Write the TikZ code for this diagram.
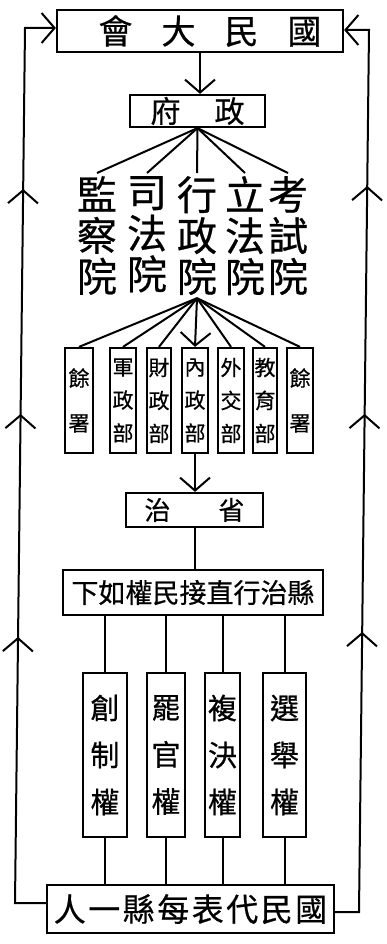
\documentclass[tikz,border=0pt]{standalone}
\usepackage{fontspec}
\newfontfamily\cjk[FakeBold=0.6]{Noto Sans CJK TC}
\usetikzlibrary{arrows.meta,decorations.markings}
\tikzset{
  mybarb/.tip={Straight Barb[length=13pt,width=30pt,line width=2pt]},
  conn/.style={line width=2pt},
  arr/.style={conn,-{mybarb}},
  box/.style={draw, line width=2.2pt, inner sep=0pt},
  colstyle/.style={inner xsep=0pt, inner ysep=3pt, align=center, anchor=north,
    font=\cjk\fontsize{40}{41}\selectfont},
  ministry/.style={box, align=center, minimum height=105pt,
    font=\cjk\fontsize{21}{33}\selectfont},
  ministrytwo/.style={box, align=center, minimum height=105pt,
    font=\cjk\fontsize{21}{45}\selectfont},
  rightbox/.style={box, align=center, minimum height=164pt,
    font=\cjk\fontsize{29}{47}\selectfont},
}
\begin{document}
\begin{tikzpicture}[x=1pt,y=-1pt]
\fill[white] (0,0) rectangle (386,944);
\useasboundingbox (0,0) rectangle (386,944);

% top
\node[box, minimum width=286pt, minimum height=42pt, font=\cjk\fontsize{34}{34}\selectfont]
  (top) at (200,31) {\hspace*{20pt}會\hspace{29pt}大\hspace{29pt}民\hspace{29pt}國};
\node[box, minimum width=135pt, minimum height=32pt, font=\cjk\fontsize{30}{30}\selectfont]
  (fu) at (197.5,111) {府\hspace{34pt}政};
\draw[arr] (top.south) -- (top.south |- fu.north);

% five yuan
\node[colstyle] (c1) at (97,173) {監\\察\\院};
\node[colstyle] (c2) at (147,173) {司\\法\\院};
\node[colstyle] (c3) at (197,173) {行\\政\\院};
\node[colstyle] (c4) at (245,173) {立\\法\\院};
\node[colstyle] (c5) at (288,173) {考\\試\\院};
\foreach \c in {c1,c2,c3,c4,c5} \draw[conn] (fu.south) -- (\c.north);

% ministries
\node[ministrytwo, minimum width=28pt] (m1) at (79,400.5) {餘\\署};
\node[ministry, minimum width=26pt] (m2) at (123,400.5) {軍\\政\\部};
\node[ministry, minimum width=24pt] (m3) at (159,400.5) {財\\政\\部};
\node[ministry, minimum width=26pt] (m4) at (195,400.5) {內\\政\\部};
\node[ministry, minimum width=26pt] (m5) at (231,400.5) {外\\交\\部};
\node[ministry, minimum width=24pt] (m6) at (265,400.5) {教\\育\\部};
\node[ministrytwo, minimum width=26pt] (m7) at (300,400.5) {餘\\署};
\foreach \m in {m1,m2,m3,m5,m6,m7} \draw[conn] (c3.south) -- (\m.north);
\draw[arr] (c3.south) -- (m4.north);

% province
\node[box, minimum width=137pt, minimum height=34pt, font=\cjk\fontsize{26}{26}\selectfont]
  (sheng) at (194.5,510) {治\hspace{48pt}省};
\draw[arr] (m4.south) -- (m4.south |- sheng.north);

% county
\node[box, minimum width=260pt, minimum height=45pt, font=\cjk\fontsize{27}{27}\selectfont]
  (xian) at (193,592.5) {下如權民接直行治縣};
\draw[conn] (sheng.south) -- (sheng.south |- xian.north);

% four rights
\node[rightbox, minimum width=44pt] (r1) at (105,755) {創\\制\\權};
\node[rightbox, minimum width=38pt] (r2) at (166,755) {罷\\官\\權};
\node[rightbox, minimum width=35pt] (r3) at (222.5,755) {複\\決\\權};
\node[rightbox, minimum width=43pt] (r4) at (284.5,755) {選\\舉\\權};

% bottom
\node[box, minimum width=287pt, minimum height=48pt, font=\cjk\fontsize{32}{32}\selectfont]
  (bot) at (190.5,909) {人\hspace{2.5pt}一\hspace{2.5pt}縣\hspace{2.5pt}每\hspace{2.5pt}表\hspace{2.5pt}代\hspace{2.5pt}民\hspace{2.5pt}國};

\foreach \r in {r1,r2,r3,r4} {
  \draw[conn] (xian.south -| \r.north) -- (\r.north);
  \draw[conn] (\r.south) -- (\r.south |- bot.north);
}

% outer loops
\coordinate (lb) at (15,903);
\coordinate (lt) at (25,28);
\coordinate (rb) at (359,912);
\coordinate (rt) at (369,30);
\draw[arr, decoration={markings,
    mark=at position 297pt with {\arrow{mybarb}},
    mark=at position 520pt with {\arrow{mybarb}},
    mark=at position 745pt with {\arrow{mybarb}}}, postaction={decorate}]
  (bot.west |- lb) -- (lb) -- (lt) -- (lt -| top.west);
\draw[arr, decoration={markings,
    mark=at position 304pt with {\arrow{mybarb}},
    mark=at position 522pt with {\arrow{mybarb}},
    mark=at position 750pt with {\arrow{mybarb}}}, postaction={decorate}]
  (bot.east |- rb) -- (rb) -- (rt) -- (rt -| top.east);
\end{tikzpicture}
\end{document}
